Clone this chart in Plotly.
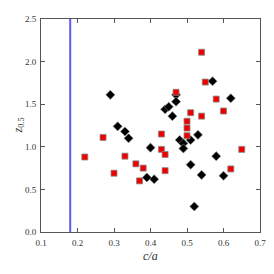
import plotly.graph_objects as go

red_x = [0.22, 0.27, 0.30, 0.33, 0.36, 0.38, 0.37, 0.43, 0.43, 0.44, 0.44, 0.47, 0.50, 0.50, 0.50,
         0.51, 0.54, 0.54, 0.55, 0.58, 0.60, 0.62, 0.65]
red_y = [0.88, 1.11, 0.69, 0.89, 0.80, 0.75, 0.60, 1.15, 0.97, 0.91, 0.72, 1.64, 1.30, 1.22, 1.13,
         1.40, 2.11, 1.36, 1.76, 1.56, 1.42, 0.74, 0.97]

black_x = [0.29, 0.31, 0.33, 0.34, 0.40, 0.39, 0.41, 0.44, 0.45, 0.46, 0.47, 0.47, 0.48, 0.49, 0.49,
           0.51, 0.51, 0.53, 0.52, 0.54, 0.57, 0.58, 0.60, 0.62]
black_y = [1.61, 1.24, 1.18, 1.10, 0.99, 0.64, 0.62, 1.44, 1.47, 1.36, 1.61, 1.53, 1.08, 1.04, 0.98,
           1.08, 0.79, 1.14, 0.30, 0.67, 1.77, 0.89, 0.66, 1.57]

vline_x = 0.18

x_ticks = [0.1, 0.2, 0.3, 0.4, 0.5, 0.6, 0.7]
y_ticks = [0.0, 0.5, 1.0, 1.5, 2.0, 2.5]

fig = go.Figure()
fig.add_trace(go.Scatter(x=black_x, y=black_y, mode="markers",
                         marker=dict(symbol="diamond", size=7, color="black",
                                     line=dict(color="#888888", width=0.6))))
fig.add_trace(go.Scatter(x=red_x, y=red_y, mode="markers",
                         marker=dict(symbol="square", size=6, color="#ee0000",
                                     line=dict(color="#888888", width=0.8))))
fig.add_trace(go.Scatter(x=[vline_x, vline_x], y=[0, 2.5], mode="lines",
                         line=dict(color="#5b5bf5", width=2)))

font = "Liberation Serif"
axis_common = dict(showgrid=False, zeroline=False, showline=True, linecolor="#555555",
                   linewidth=1, mirror="ticks", ticks="inside", ticklen=4, tickwidth=0.8,
                   tickcolor="#555555", ticklabelstandoff=2,
                   tickfont=dict(family=font, size=9, color="#333333"))
fig.update_layout(
    width=266, height=266,
    margin=dict(l=33, r=14, t=6, b=42),
    paper_bgcolor="white", plot_bgcolor="white",
    showlegend=False,
    xaxis=dict(range=[0.1, 0.7], tickvals=x_ticks, ticktext=[f"{v:.1f}" for v in x_ticks],
               **axis_common),
    yaxis=dict(range=[0, 2.5], tickvals=y_ticks, ticktext=[f"{v:.1f}" for v in y_ticks],
               **axis_common),
    annotations=[
        dict(text="c/a", xref="paper", yref="paper", x=0.5, y=-0.112,
             xanchor="center", yanchor="middle", showarrow=False, borderpad=0,
             font=dict(family=font, size=12, color="#333333", style="italic")),
        dict(text="<i>z</i><sub>0.5</sub>", xref="paper", yref="paper", x=-0.105, y=0.5,
             xanchor="center", yanchor="middle", textangle=-90, showarrow=False,
             font=dict(family=font, size=12, color="#333333")),
    ],
)
fig.write_html("out.html")
